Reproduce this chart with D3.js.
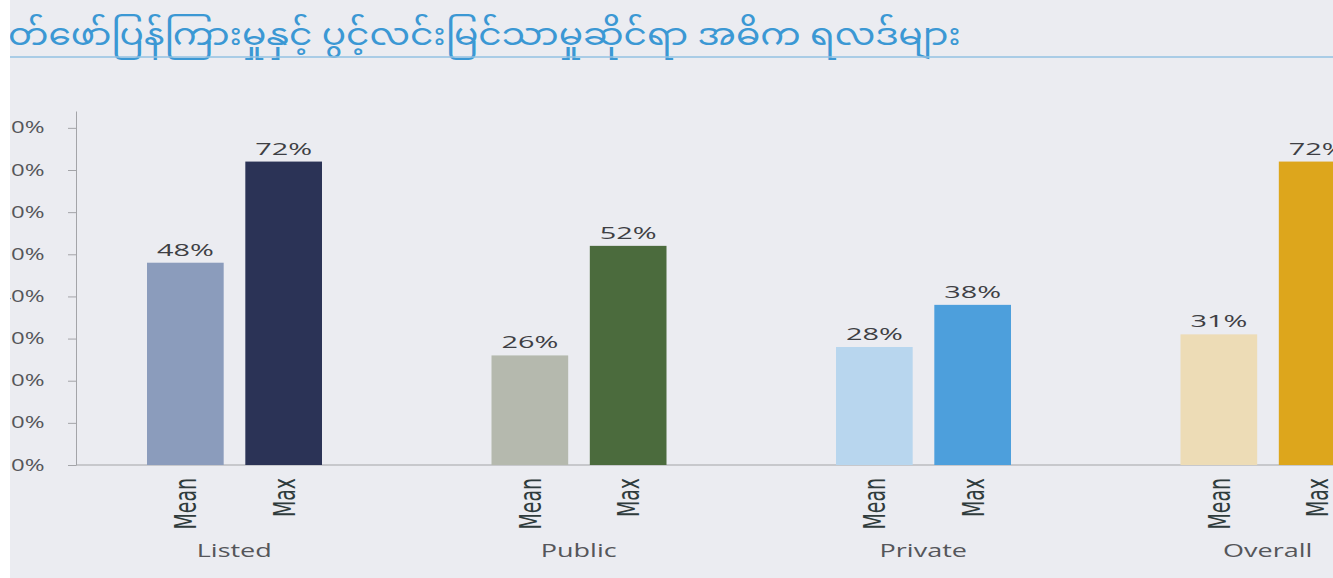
<!DOCTYPE html>
<html>
<head>
<meta charset="utf-8">
<script src="https://cdn.jsdelivr.net/npm/d3@7"></script>
<style>
  html, body { margin: 0; padding: 0; background: #ffffff; overflow: hidden; }
  svg { display: block; }
</style>
</head>
<body>
<div id="chart"></div>
<script>
// Mean vs Max scores by company type (scanned page, cropped on both sides)
const titleText = "တ်ဖော်ပြန်ကြားမှုနှင့် ပွင့်လင်းမြင်သာမှုဆိုင်ရာ အဓိက ရလဒ်များ";
const categories = ["Listed", "Public", "Private", "Overall"];
const seriesNames = ["Mean", "Max"];
const meanValues = [48, 26, 28, 31];
const maxValues = [72, 52, 38, 72];
const yTickValues = [0, 10, 20, 30, 40, 50, 60, 70, 80];

// colours, one per category
const meanColors = ["#8b9cbc", "#b5b9ae", "#b8d6ee", "#eddcb6"];
const maxColors = ["#2b3356", "#4b6b3d", "#4d9fdc", "#dda61c"];

const width = 1333, height = 578;
const margin = { top: 111, left: 76, bottom: 113 };
const baseY = height - margin.bottom;

const svg = d3.select("#chart").append("svg")
  .attr("width", width)
  .attr("height", height);

// scan edge: white strip on the left clips everything
svg.append("defs").append("clipPath").attr("id", "page")
  .append("rect").attr("x", 10).attr("y", 0).attr("width", width).attr("height", height);

const page = svg.append("g").attr("clip-path", "url(#page)");

page.append("rect")
  .attr("x", 0).attr("y", 0)
  .attr("width", width).attr("height", height)
  .attr("fill", "#ebecf1");

// title + rule
page.append("text")
  .attr("transform", "translate(8,45) scale(1.2,1)")
  .style("font-family", "'Noto Sans Myanmar', 'Padauk', 'Myanmar Text', sans-serif")
  .style("font-size", "30px")
  .style("fill", "#3b98d4")
  .text(titleText);

page.append("line")
  .attr("x1", 8).attr("x2", width)
  .attr("y1", 57).attr("y2", 57)
  .attr("stroke", "#93c2e2")
  .attr("stroke-width", 1.5);

// scales
const rows = categories.map((c, i) => ({ cat: c, Mean: meanValues[i], Max: maxValues[i], i }));

const x0 = d3.scaleBand()
  .domain(categories)
  .range([62, 62 + 344.5 * categories.length])
  .padding(0);

const x1 = d3.scaleBand()
  .domain(seriesNames)
  .range([85, 260])
  .paddingInner(0.22);

const y = d3.scaleLinear()
  .domain([0, 84])
  .range([baseY, margin.top]);

// y axis
const yAxis = page.append("g")
  .attr("transform", `translate(${margin.left},0)`)
  .call(d3.axisLeft(y).tickValues(yTickValues).tickFormat(d => d + "%").tickSize(8).tickSizeOuter(0));

yAxis.select(".domain").attr("stroke", "#a3a4a8");
yAxis.selectAll(".tick line").attr("stroke", "#a3a4a8");
yAxis.selectAll(".tick text")
  .attr("x", -21)
  .attr("transform", "scale(1.5,1)")
  .style("font-family", "'Open Sans', sans-serif")
  .style("font-size", "16px")
  .style("fill", "#55565a");

// baseline
page.append("line")
  .attr("x1", margin.left).attr("x2", width)
  .attr("y1", y(0)).attr("y2", y(0))
  .attr("stroke", "#a3a4a8")
  .attr("stroke-width", 1.2);

// bars
const groups = page.selectAll(".grp")
  .data(rows)
  .join("g")
  .attr("class", "grp")
  .attr("transform", d => `translate(${x0(d.cat) - x0.range()[0]},0)`);

const barData = d => seriesNames.map(s => ({ s, v: d[s], color: s === "Mean" ? meanColors[d.i] : maxColors[d.i] }));

groups.selectAll("rect")
  .data(barData)
  .join("rect")
  .attr("x", d => x0.range()[0] + x1(d.s))
  .attr("width", x1.bandwidth())
  .attr("y", d => y(d.v))
  .attr("height", d => y(0) - y(d.v))
  .attr("fill", d => d.color);

const barMid = d => x0.range()[0] + x1(d.s) + x1.bandwidth() / 2;

// value labels
groups.selectAll(".val")
  .data(barData)
  .join("text")
  .attr("class", "val")
  .attr("transform", d => `translate(${barMid(d)},${y(d.v) - 7}) scale(1.7,1)`)
  .attr("text-anchor", "middle")
  .style("font-family", "'Open Sans', sans-serif")
  .style("font-size", "17px")
  .style("fill", "#3e3f44")
  .text(d => d.v + "%");

// Mean / Max rotated labels
groups.selectAll(".ser")
  .data(barData)
  .join("text")
  .attr("class", "ser")
  .attr("transform", d => `translate(${barMid(d)},${y(0) + 13}) scale(1.45,1) rotate(-90)`)
  .attr("text-anchor", "end")
  .attr("dy", "0.36em")
  .style("font-family", "'Liberation Sans Narrow', 'DejaVu Sans Condensed', sans-serif")
  .style("font-size", "21px")
  .style("fill", "#2f3b3c")
  .text(d => d.s);

// category labels
page.selectAll(".cat")
  .data(rows)
  .join("text")
  .attr("class", "cat")
  .attr("transform", d => `translate(${x0(d.cat) + x0.bandwidth() / 2},${baseY + 92}) scale(1.5,1)`)
  .attr("text-anchor", "middle")
  .style("font-family", "'Open Sans', sans-serif")
  .style("font-size", "18px")
  .style("fill", "#55565a")
  .text(d => d.cat);
</script>
</body>
</html>
